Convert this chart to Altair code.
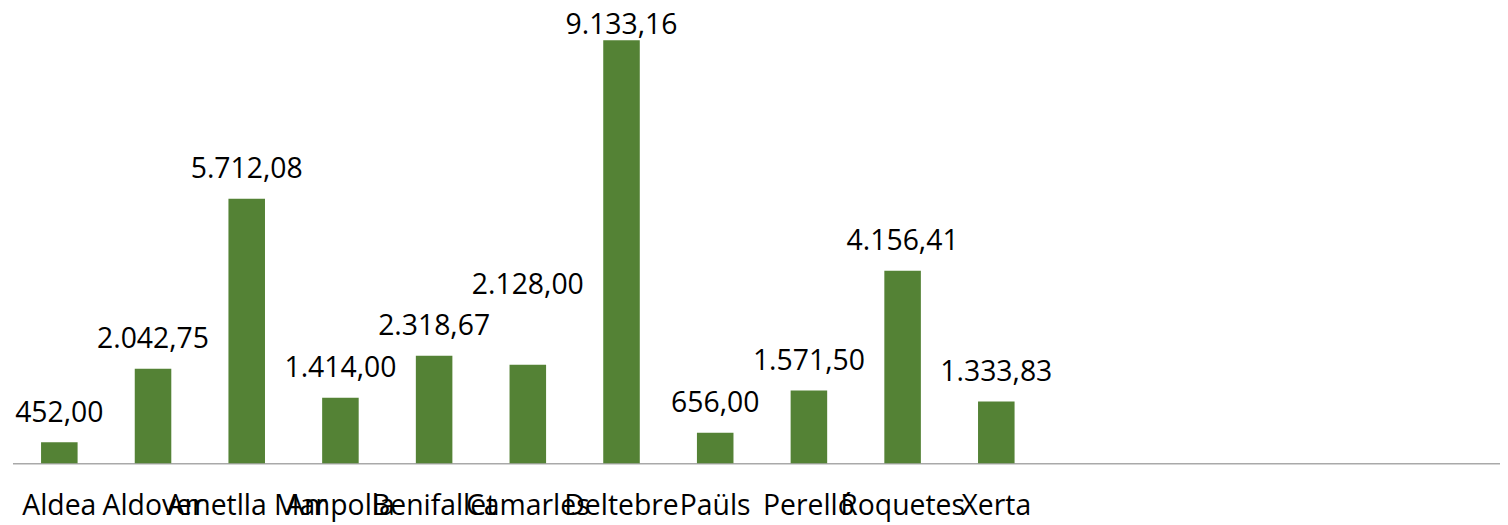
import altair as alt
import pandas as pd

# ---- data ----
municipis = ["Aldea", "Aldover", "Ametlla Mar", "Ampolla", "Benifallet", "Camarles",
             "Deltebre", "Paüls", "Perelló", "Roquetes", "Xerta"]
valors = [452.00, 2042.75, 5712.08, 1414.00, 2318.67, 2128.00,
          9133.16, 656.00, 1571.50, 4156.41, 1333.83]
# empty category slots that follow the data in the original sheet
buits = ["_buit1", "_buit2", "_buit3", "_buit4", "_buit5"]


def format_ca(v):
    s = f"{v:,.2f}"
    return s.replace(",", "#").replace(".", ",").replace("#", ".")


df = pd.DataFrame({
    "municipi": municipis,
    "valor": valors,
    "etiqueta": [format_ca(v) for v in valors],
})

FONT = "Open Sans"
FONT_SIZE = 28.5
BAR_COLOR = "#548235"
Y_MAX = 9800
PLOT_H = 456.3
PX = PLOT_H / Y_MAX                 # pixels per value unit
LABEL_GAP = 20.5 / PX               # gap between bar top and label baseline
LABEL_LINE = 42.0 / PX              # one label line, used to avoid overlaps
LABEL_CEIL = (PLOT_H - 24.5) / PX   # keeps the topmost label inside the chart area

x_scale = alt.Scale(domain=municipis + buits, range=[0, 1507.2],
                    paddingInner=0.61, paddingOuter=0.305)
y_scale = alt.Scale(domain=[0, Y_MAX], nice=False, zero=True)

x_axis = alt.Axis(
    values=municipis, title=None, labelAngle=0, ticks=False, tickSize=0,
    labelPadding=51.7, labelBaseline="alphabetic", labelFont=FONT,
    labelFontSize=FONT_SIZE, labelColor="#000000", labelOverlap=False,
    labelLimit=0, domainColor="#A9A9A9", domainWidth=1.3, grid=False,
)

x_enc = alt.X("municipi:N", scale=x_scale, axis=x_axis, sort=None)

bars = alt.Chart(df).mark_bar(color=BAR_COLOR).encode(
    x=x_enc,
    y=alt.Y("valor:Q", scale=y_scale, axis=None),
)

# data labels sit just above each bar; a label that would collide with its
# left neighbour is lifted one line above it
labels = alt.Chart(df).transform_calculate(
    pos=f"min(datum.valor + {LABEL_GAP}, {LABEL_CEIL})"
).transform_window(
    window=[{"op": "lag", "field": "pos", "as": "prev"}],
    frame=[None, None],
).transform_calculate(
    pos2=(f"isValid(datum.prev) && abs(datum.pos - datum.prev) < {LABEL_LINE}"
          f" ? datum.prev + {LABEL_LINE} : datum.pos")
).mark_text(
    font=FONT, fontSize=FONT_SIZE, color="#000000", baseline="alphabetic"
).encode(
    x=x_enc,
    y=alt.Y("pos2:Q", scale=y_scale, axis=None),
    text="etiqueta:N",
)

chart = alt.layer(bars, labels).properties(
    width=1495.5,
    height=PLOT_H,
    autosize=alt.AutoSizeParams(type="none"),
    padding={"left": 4.5, "top": 0, "right": 0, "bottom": 60.7},
    background="#ffffff",
).configure_view(strokeWidth=0)

chart.save("out.html", embed_options={"renderer": "svg", "actions": False})
